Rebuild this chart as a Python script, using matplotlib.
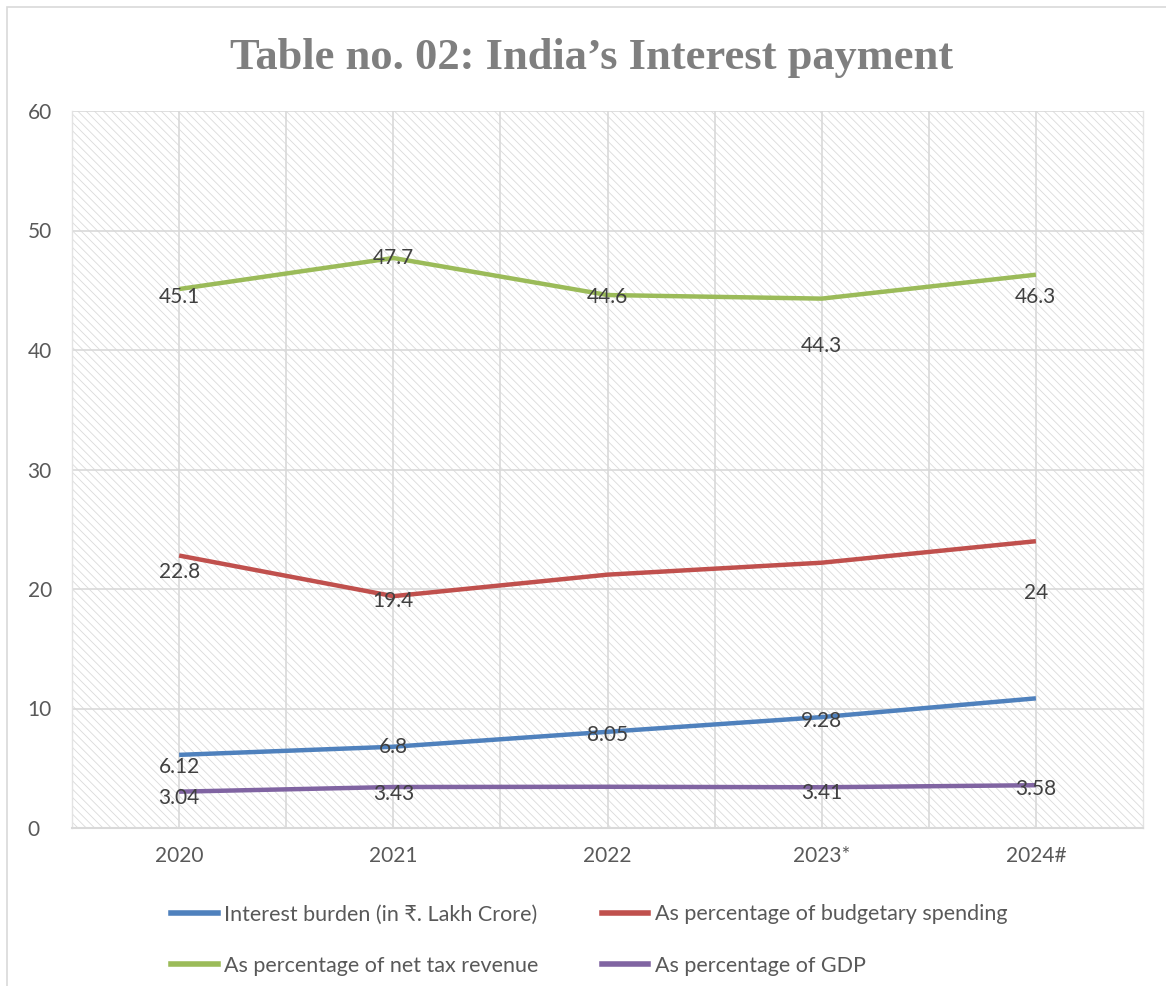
import matplotlib
matplotlib.use("Agg")
import matplotlib.pyplot as plt
from matplotlib.patches import Rectangle
from matplotlib.lines import Line2D

years = ["2020", "2021", "2022", "2023*", "2024#"]
interest_burden = [6.12, 6.8, 8.05, 9.28, 10.85]
pct_budget = [22.8, 19.4, 21.2, 22.2, 24.0]
pct_tax = [45.1, 47.7, 44.6, 44.3, 46.3]
pct_gdp = [3.04, 3.43, 3.45, 3.41, 3.58]

series_names = [
    "Interest burden (in ₹. Lakh Crore)",
    "As percentage of budgetary spending",
    "As percentage of net tax revenue",
    "As percentage of GDP",
]
series_values = [interest_burden, pct_budget, pct_tax, pct_gdp]
series_colors = ["#4f81bd", "#c0504d", "#9bbb59", "#8064a2"]

# label offsets (data units) for each point of each series
label_offsets = [
    [-1.0, 0.0, -0.3, -0.3, 0.0],
    [-1.4, -0.4, 0.0, 0.0, -4.3],
    [-0.7, 0.0, -0.2, -4.0, -1.9],
    [-0.5, -0.6, 0.0, -0.5, -0.3],
]
label_texts = [
    ["6.12", "6.8", "8.05", "9.28", ""],
    ["22.8", "19.4", "", "", "24"],
    ["45.1", "47.7", "44.6", "44.3", "46.3"],
    ["3.04", "3.43", "", "3.41", "3.58"],
]

plt.rcParams["font.family"] = ["Lato", "DejaVu Sans"]
plt.rcParams["hatch.linewidth"] = 0.6
plt.rcParams["hatch.color"] = "#dadada"

fig = plt.figure(figsize=(11.66, 9.86), dpi=100)
fig.patch.set_facecolor("white")

# outer chart frame
fig.patches.append(Rectangle((7 / 1166, -0.01), 1.2, 1 - 7 / 986 + 0.01,
                             transform=fig.transFigure, fill=False,
                             edgecolor="#d9d9d9", linewidth=1.2))

ax = fig.add_axes([72 / 1166, 1 - 828 / 986, (1143 - 72) / 1166, (828 - 111) / 986])
ax.set_facecolor("white")
ax.add_patch(Rectangle((0, 0), 1, 1, transform=ax.transAxes, facecolor="white",
                       hatch="\\\\\\\\", edgecolor="#dadada", linewidth=0, zorder=0))

x = list(range(len(years)))
ax.set_xlim(-0.5, len(years) - 0.5)
ax.set_ylim(0, 60)
ax.set_yticks(range(0, 61, 10))
ax.set_xticks(x)
ax.set_xticklabels(years)

# gridlines at categories and between them
for gx in [i * 0.5 for i in range(0, 2 * len(years) - 1)]:
    ax.axvline(gx, color="#d9d9d9", linewidth=1.2, zorder=1)
for gy in range(10, 61, 10):
    ax.axhline(gy, color="#d9d9d9", linewidth=1.2, zorder=1)

ax.spines["top"].set_visible(False)
for s in ["left", "right"]:
    ax.spines[s].set_color("#e3e3e3")
    ax.spines[s].set_linewidth(1.0)
ax.spines["bottom"].set_color("#d9d9d9")
ax.spines["bottom"].set_linewidth(1.5)

ax.tick_params(axis="both", length=0, labelsize=15, colors="#595959")
ax.tick_params(axis="x", pad=13)
ax.tick_params(axis="y", pad=32)
for t in ax.get_yticklabels():
    t.set_horizontalalignment("left")

for vals, col, name in zip(series_values, series_colors, series_names):
    ax.plot(x, vals, color=col, linewidth=3.2, solid_capstyle="butt", zorder=3, label=name)

for vals, offs, texts in zip(series_values, label_offsets, label_texts):
    for xi, v, o, t in zip(x, vals, offs, texts):
        if t:
            ax.text(xi, v + o, t, ha="center", va="center", fontsize=15,
                    color="#404040", zorder=4)

fig.text(0.507, 0.941, "Table no. 02: India\u2019s Interest payment",
         ha="center", va="center", fontsize=32, fontweight="bold",
         color="#7f7f7f", family=["Liberation Serif", "DejaVu Serif"])

# legend laid out row by row
order = [0, 2, 1, 3]
handles = [Line2D([], [], color=series_colors[i], linewidth=4) for i in order]
labels = [series_names[i] for i in order]
fig.legend(handles, labels, loc="upper left",
           bbox_to_anchor=(152 / 1166, 1 - 885 / 986), ncol=2, frameon=False,
           fontsize=15.5, labelcolor="#595959", handlelength=2.15,
           handletextpad=0.3, columnspacing=2.95, labelspacing=1.45)

fig.savefig("out.png", dpi=100, facecolor="white")
